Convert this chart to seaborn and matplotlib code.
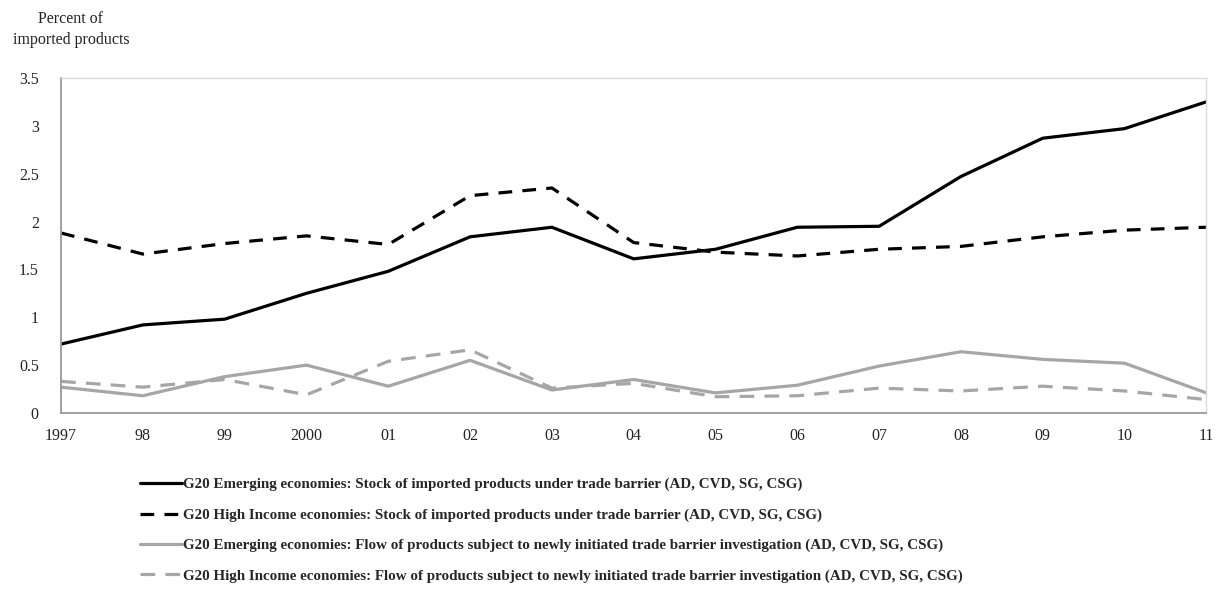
import numpy as np
import pandas as pd
import matplotlib
matplotlib.use("Agg")
import matplotlib.pyplot as plt
import seaborn as sns

years = list(range(1997, 2012))
tick_labels = ["1997", "98", "99", "2000", "01", "02", "03", "04", "05", "06", "07", "08", "09", "10", "11"]

em_stock = [0.72, 0.92, 0.98, 1.25, 1.48, 1.84, 1.94, 1.61, 1.71, 1.94, 1.95, 2.47, 2.87, 2.97, 3.25]
hi_stock = [1.88, 1.66, 1.77, 1.85, 1.76, 2.27, 2.35, 1.78, 1.68, 1.64, 1.71, 1.74, 1.84, 1.91, 1.94]
em_flow = [0.27, 0.18, 0.38, 0.50, 0.28, 0.55, 0.24, 0.35, 0.21, 0.29, 0.49, 0.64, 0.56, 0.52, 0.21]
hi_flow = [0.33, 0.27, 0.35, 0.19, 0.54, 0.66, 0.26, 0.31, 0.17, 0.18, 0.26, 0.23, 0.28, 0.23, 0.14]

series_names = [
    "G20 Emerging economies: Stock of imported products under trade barrier (AD, CVD, SG, CSG)",
    "G20 High Income economies: Stock of imported products under trade barrier (AD, CVD, SG, CSG)",
    "G20 Emerging economies: Flow of products subject to newly initiated trade barrier investigation (AD, CVD, SG, CSG)",
    "G20 High Income economies: Flow of products subject to newly initiated trade barrier investigation (AD, CVD, SG, CSG)",
]

df = pd.DataFrame({
    "year": years * 4,
    "value": em_stock + hi_stock + em_flow + hi_flow,
    "series": [s for s in series_names for _ in years],
})

sns.set_style("white")
plt.rcParams["font.family"] = ["Liberation Serif", "DejaVu Serif"]

fig = plt.figure(figsize=(12.21, 5.90), dpi=100)
ax = fig.add_axes([0.05, 0.30, 0.938, 0.568])

palette = {series_names[0]: "black", series_names[1]: "black",
           series_names[2]: "#a6a6a6", series_names[3]: "#a6a6a6"}
dashes = {series_names[0]: "", series_names[1]: (4.3, 3.2),
          series_names[2]: "", series_names[3]: (4.6, 3.2)}

sns.lineplot(data=df, x="year", y="value", hue="series", style="series",
             palette=palette, dashes=dashes, linewidth=2.3, ax=ax, legend=True)

ax.set_xlim(1997, 2011)
ax.set_ylim(0, 3.5)
ax.set_xticks(years)
ax.set_xticklabels(tick_labels)
ax.set_yticks([0, 0.5, 1, 1.5, 2, 2.5, 3, 3.5])
ax.set_yticklabels(["0", "0.5", "1", "1.5", "2", "2.5", "3", "3.5"])
ax.tick_params(axis="both", length=0, labelsize=11.5, colors="#222222")
ax.tick_params(axis="x", pad=11)
ax.tick_params(axis="y", pad=16)
ax.set_xlabel("")
ax.set_ylabel("")

for side in ["left", "bottom"]:
    ax.spines[side].set_color("#999999")
    ax.spines[side].set_linewidth(1.3)
for side in ["top", "right"]:
    ax.spines[side].set_color("#d9d9d9")
    ax.spines[side].set_linewidth(1.0)

handles, labels = ax.get_legend_handles_labels()
ax.legend_.remove()
leg = fig.legend(handles, labels, loc="upper left", bbox_to_anchor=(0.106, 0.208),
                 frameon=False, handlelength=2.8, handletextpad=0.1,
                 labelspacing=1.12, borderaxespad=0.3,
                 prop={"weight": "bold", "size": 10.8})
for line in leg.get_lines():
    line.set_linewidth(2.3)

fig.text(0.058, 0.95, "Percent of\nimported products", ha="center", va="center",
         fontsize=11.5, linespacing=1.35, color="#222222")

fig.savefig("out.png", dpi=100)
